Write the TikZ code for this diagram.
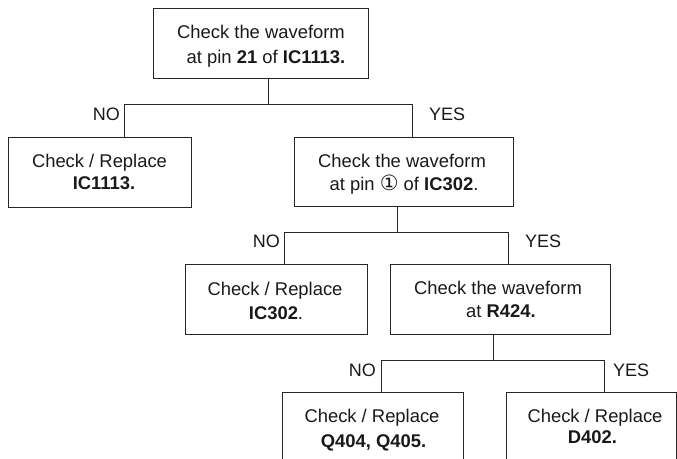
\documentclass[tikz,border=0pt]{standalone}
\usepackage{fontspec}
\setmainfont{Liberation Sans}
\newfontfamily\djv{DejaVu Sans}
\begin{document}
\begin{tikzpicture}[x=1pt,y=-1pt,
  box/.style={draw=black!85, line width=1pt, inner sep=0pt, anchor=north west},
  txt/.style={anchor=base, inner sep=0pt, text=black!90, font=\fontsize{18.4}{22}\selectfont},
  lbl/.style={anchor=base, inner sep=0pt, text=black!90, font=\fontsize{18}{22}\selectfont},
  wire/.style={draw=black!85, line width=1pt}]
\useasboundingbox (0,0) rectangle (677,458);
\clip (0,0) rectangle (677,458);
% boxes
\node[box, minimum width=215pt, minimum height=70pt] (b1) at (153,8) {};
\node[box, minimum width=183pt, minimum height=70pt] (b2) at (8,136.5) {};
\node[box, minimum width=219pt, minimum height=69.5pt] (b3) at (294,136.5) {};
\node[box, minimum width=182pt, minimum height=70pt] (b4) at (185,264) {};
\node[box, minimum width=220pt, minimum height=70pt] (b5) at (390,264) {};
\node[box, minimum width=181pt, minimum height=90pt] (b6) at (282,392) {};
\node[box, minimum width=170pt, minimum height=90pt] (b7) at (506,392) {};
% texts
\node[txt] (t1a) at (261,38) {Check the waveform};
\node[txt] (t1b) at (266,63) {at pin \textbf{21} of \textbf{IC1113.}};
\node[txt] (t2a) at (99.5,167) {Check / Replace};
\node[txt] (t2b) at (104,189) {\textbf{IC1113.}};
\node[txt] (t3a) at (402,167) {Check the waveform};
\node[txt] (t3b) at (404,190) {at pin {\djv\fontsize{21}{22}\selectfont ①} of \textbf{IC302}.};
\node[txt] (t4a) at (275,295) {Check / Replace};
\node[txt] (t4b) at (276,319) {\textbf{IC302}.};
\node[txt] (t5a) at (498,294) {Check the waveform};
\node[txt] (t5b) at (501,317) {at \textbf{R424.}};
\node[txt] (t6a) at (372,422) {Check / Replace};
\node[txt] (t6b) at (373.5,447.5) {\textbf{Q404, Q405.}};
\node[txt] (t7a) at (595,422) {Check / Replace};
\node[txt] (t7b) at (592.5,443) {\textbf{D402.}};
% junctions
\coordinate (j1) at (268,104);
\coordinate (n1) at (124,104);
\coordinate (y1) at (412,104);
\coordinate (j2) at (397,232);
\coordinate (n2) at (284,232);
\coordinate (y2) at (508,232);
\coordinate (j3) at (493,360);
\coordinate (n3) at (381,360);
\coordinate (y3) at (604,360);
% connectors
\draw[wire] (b1.south -| j1) -- (j1);
\draw[wire] (b2.north -| n1) -- (n1) -- (y1) -- (b3.north -| y1);
\draw[wire] (b3.south -| j2) -- (j2);
\draw[wire] (b4.north -| n2) -- (n2) -- (y2) -- (b5.north -| y2);
\draw[wire] (b5.south -| j3) -- (j3);
\draw[wire] (b6.north -| n3) -- (n3) -- (y3) -- (b7.north -| y3);
% labels
\node[lbl, anchor=base east] (no1) at (120,120) {NO};
\node[lbl, anchor=base west] (yes1) at (429,120) {YES};
\node[lbl, anchor=base east] (no2) at (280,247) {NO};
\node[lbl, anchor=base west] (yes2) at (525,247) {YES};
\node[lbl, anchor=base east] (no3) at (376,376) {NO};
\node[lbl, anchor=base west] (yes3) at (613,376) {YES};
\end{tikzpicture}
\end{document}
